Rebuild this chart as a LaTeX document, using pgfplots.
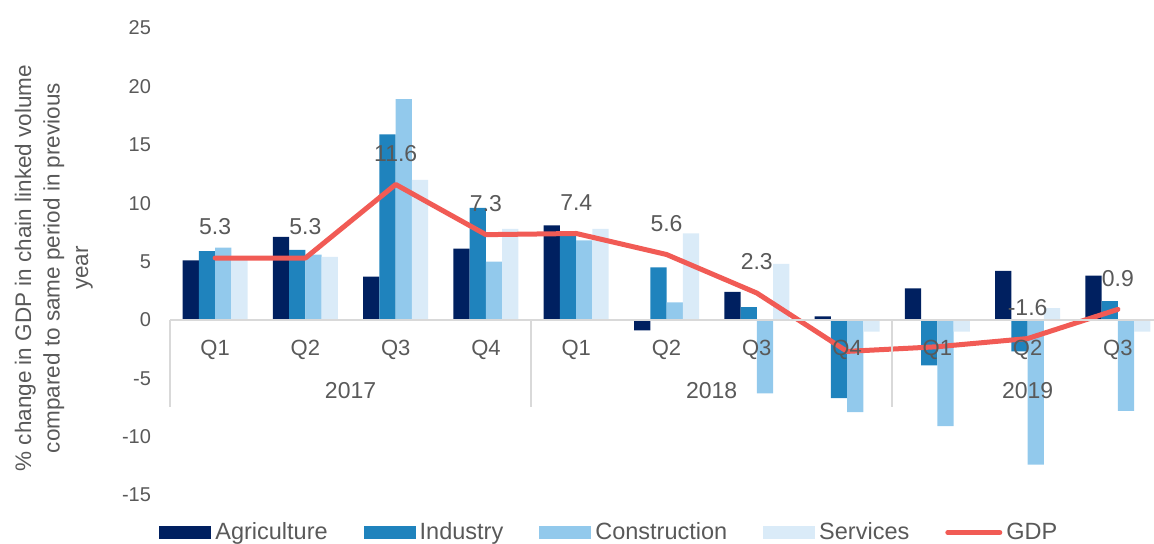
\documentclass[border=0pt]{standalone}
\usepackage{fontspec}
\setmainfont{Liberation Sans}
\usepackage{pgfplots}
\pgfplotsset{compat=1.18}
\definecolor{agri}{HTML}{002060}
\definecolor{ind}{HTML}{1F83BD}
\definecolor{con}{HTML}{92C9EC}
\definecolor{ser}{HTML}{DAEBF8}
\definecolor{gdp}{HTML}{F15B55}
\definecolor{txt}{HTML}{595959}
\definecolor{axl}{HTML}{D9D9D9}
\begin{document}
\begin{tikzpicture}
\begin{axis}[
  at={(0pt,0pt)}, anchor=south west,
  scale only axis, width=492pt, height=233.5pt,
  xmin=-0.5, xmax=10.4, ymin=-15, ymax=25,
  axis on top,
  axis x line*=middle, axis y line*=left,
  hide obscured x ticks=false, hide obscured y ticks=false,
  x axis line style={draw=axl, line width=0.75pt},
  y axis line style={draw=none},
  xtick={0,...,10}, xticklabels={Q1,Q2,Q3,Q4,Q1,Q2,Q3,Q4,Q1,Q2,Q3},
  ytick={-15,-10,-5,0,5,10,15,20,25}, yticklabels={{-15},{-10},{-5},0,5,10,15,20,25},
  major tick length=0pt, tick style={draw=none},
  xticklabel style={font=\fontsize{11}{13}\selectfont, text=txt, anchor=base, yshift=-18pt},
  yticklabel style={font=\fontsize{10}{12}\selectfont, text=txt, anchor=east, xshift=-6pt},
  ylabel={\% change in GDP in chain linked volume\\compared to same period in previous\\year},
  ylabel style={at={(axis description cs:-0.118,0.486)}, anchor=center, align=center, font=\fontsize{11.25}{14.25}\selectfont, text=txt},
  clip=false,
  legend columns=5,
  legend style={at={(axis description cs:-0.0112,-0.0803)}, anchor=west, draw=none, fill=none, inner sep=0pt,
    font=\fontsize{11.75}{13}\selectfont, text=txt,
    /tikz/every even column/.append style={column sep=16pt},
    /tikz/every odd column/.append style={column sep=0pt}},
]
\addplot[ybar, bar width=0.18, bar shift=-0.27, fill=agri, draw=none,
  legend image code/.code={\fill[agri] (0pt,-3.25pt) rectangle (26pt,3.25pt);}]
  coordinates {(0,5.1) (1,7.1) (2,3.7) (3,6.1) (4,8.1) (5,-0.9) (6,2.4) (7,0.3) (8,2.7) (9,4.2) (10,3.8)};
\addlegendentry{Agriculture}
\addplot[ybar, bar width=0.18, bar shift=-0.09, fill=ind, draw=none,
  legend image code/.code={\fill[ind] (0pt,-3.25pt) rectangle (26pt,3.25pt);}]
  coordinates {(0,5.9) (1,6.0) (2,15.9) (3,9.6) (4,7.6) (5,4.5) (6,1.1) (7,-6.7) (8,-3.9) (9,-2.7) (10,1.6)};
\addlegendentry{Industry}
\addplot[ybar, bar width=0.18, bar shift=0.09, fill=con, draw=none,
  legend image code/.code={\fill[con] (0pt,-3.25pt) rectangle (26pt,3.25pt);}]
  coordinates {(0,6.2) (1,5.6) (2,18.9) (3,5.0) (4,6.8) (5,1.5) (6,-6.3) (7,-7.9) (8,-9.1) (9,-12.4) (10,-7.8)};
\addlegendentry{Construction}
\addplot[ybar, bar width=0.18, bar shift=0.27, fill=ser, draw=none,
  legend image code/.code={\fill[ser] (0pt,-3.25pt) rectangle (26pt,3.25pt);}]
  coordinates {(0,5.2) (1,5.4) (2,12.0) (3,7.8) (4,7.8) (5,7.4) (6,4.8) (7,-1.0) (8,-1.0) (9,1.0) (10,-1.0)};
\addlegendentry{Services}
\addplot[gdp, line width=2.5pt, line join=round, line cap=round, mark=none,
  nodes near coords, point meta=explicit symbolic,
  nodes near coords style={anchor=center, yshift=15.5pt, font=\fontsize{11.5}{13}\selectfont, text=txt},
  legend image code/.code={\draw[gdp, line width=2.5pt, line cap=round] (0pt,0pt) -- (26pt,0pt);}]
  coordinates {(0,5.3)[5.3] (1,5.3)[5.3] (2,11.6)[11.6] (3,7.3)[7.3] (4,7.4)[7.4] (5,5.6)[5.6] (6,2.3)[2.3] (7,-2.7)[] (8,-2.3)[] (9,-1.6)[-1.6] (10,0.9)[0.9]};
\addlegendentry{GDP}
\draw[axl, line width=0.75pt] (axis cs:-0.5,0) -- (axis cs:-0.5,-7.45);
\draw[axl, line width=0.75pt] (axis cs:3.5,0) -- (axis cs:3.5,-7.45);
\draw[axl, line width=0.75pt] (axis cs:7.5,0) -- (axis cs:7.5,-7.45);
\node[anchor=base, yshift=-39.5pt, font=\fontsize{11.5}{13}\selectfont, text=txt] at (axis cs:1.5,0) {2017};
\node[anchor=base, yshift=-39.5pt, font=\fontsize{11.5}{13}\selectfont, text=txt] at (axis cs:5.5,0) {2018};
\node[anchor=base, yshift=-39.5pt, font=\fontsize{11.5}{13}\selectfont, text=txt] at (axis cs:9,0) {2019};
\end{axis}
\pgfresetboundingbox
\path[use as bounding box] (-85pt,-24pt) rectangle (492pt,247.5pt);
\end{tikzpicture}
\end{document}
